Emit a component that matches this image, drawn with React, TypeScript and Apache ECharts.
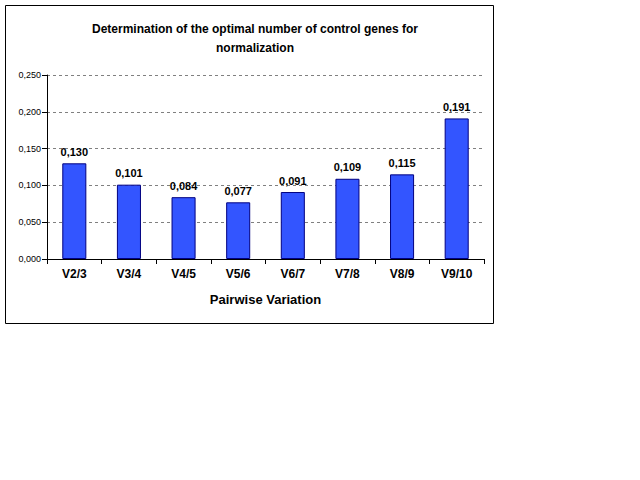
import React, { useEffect, useRef } from "react";
import * as echarts from "echarts";

const categories = ["V2/3", "V3/4", "V4/5", "V5/6", "V6/7", "V7/8", "V8/9", "V9/10"];
const values = [0.13, 0.101, 0.084, 0.077, 0.091, 0.109, 0.115, 0.191];

const fmt = (v: number) => v.toFixed(3).replace(".", ",");

export default function App() {
  const ref = useRef<HTMLDivElement>(null);
  useEffect(() => {
    document.body.style.margin = "0";
    const chart = echarts.init(ref.current!, null, { renderer: "svg" });
    chart.setOption({
      animation: false,
      backgroundColor: "#fff",
      textStyle: { fontFamily: "Arial, Liberation Sans, sans-serif" },
      title: {
        text: "Determination of the optimal number of control genes for\nnormalization",
        left: 250,
        textAlign: "center",
        top: 14,
        textStyle: { fontSize: 12, fontWeight: "bold", color: "#000", lineHeight: 19 },
      },
      graphic: [
        { type: "rect", shape: { x: 5.5, y: 5.5, width: 488, height: 318 }, style: { fill: "none", stroke: "#000", lineWidth: 1 } },
      ],
      grid: { left: 47, top: 75, width: 437, height: 184 },
      xAxis: {
        type: "category",
        data: categories,
        axisTick: { show: true, alignWithLabel: false, lineStyle: { color: "#000" } },
        axisLine: { lineStyle: { color: "#000" } },
        axisLabel: { fontSize: 12, fontWeight: "bold", color: "#000", margin: 9 },
        name: "Pairwise Variation",
        nameLocation: "middle",
        nameGap: 34,
        nameTextStyle: { fontSize: 13, fontWeight: "bold", color: "#000" },
      },
      yAxis: {
        type: "value",
        min: 0,
        max: 0.25,
        interval: 0.05,
        axisLine: { show: true, lineStyle: { color: "#000" } },
        axisTick: { show: true, lineStyle: { color: "#000" } },
        axisLabel: { fontSize: 9, color: "#000", formatter: (v: number) => fmt(v), margin: 6 },
        splitLine: { lineStyle: { color: "#808080", type: [3, 3] } },
      },
      series: [
        {
          type: "bar",
          data: values,
          barWidth: "44%",
          itemStyle: { color: "#3355ff", borderColor: "#000080", borderWidth: 1 },
          label: {
            show: true,
            position: "top",
            fontSize: 11,
            fontWeight: "bold",
            color: "#000",
            distance: 6,
            formatter: (p: any) => fmt(p.value),
          },
        },
      ],
    });
    return () => chart.dispose();
  }, []);
  return <div ref={ref} style={{ width: 640, height: 480 }} />;
}
